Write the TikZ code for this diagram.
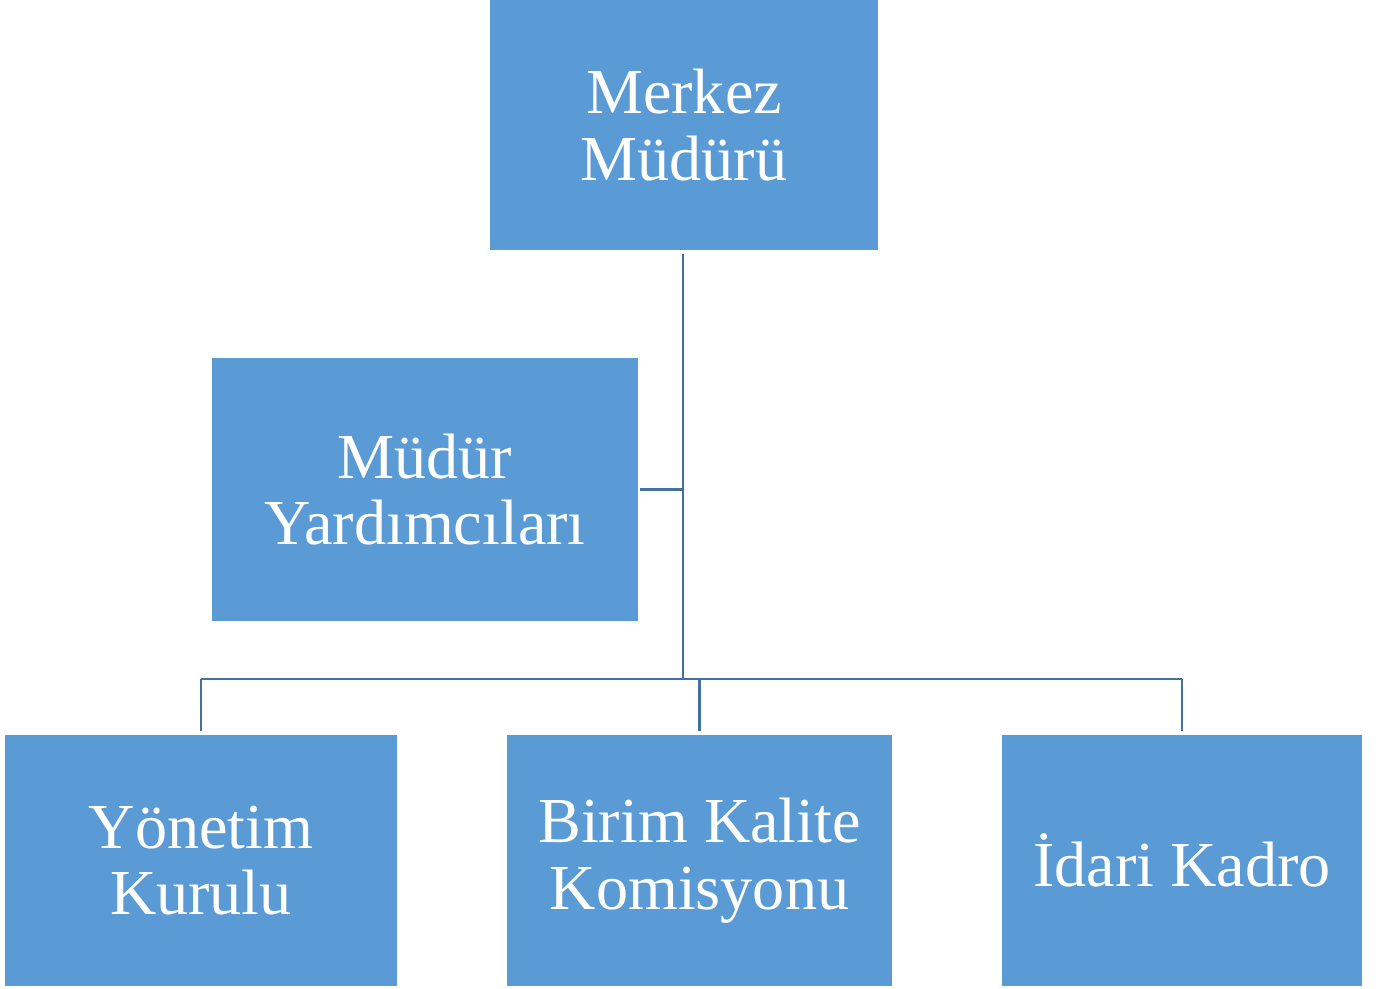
\documentclass[tikz,border=0pt]{standalone}
\usepackage{fontspec}
\setmainfont{Liberation Serif}
\usepackage{xcolor}
\definecolor{boxblue}{HTML}{5B9BD5}
\definecolor{linkblue}{HTML}{41719C}

\begin{document}
\begin{tikzpicture}[
        unit/.style = {fill=boxblue, text=white, align=center, inner sep=0pt,
            font=\fontsize{36.5}{38}\selectfont},
        link/.style = {linkblue, line width=1.6pt}
    ]
        \useasboundingbox (0,0) rectangle (27.56,-19.76);
        \node[unit, minimum width=7.76cm, minimum height=5cm] (mudur) at (13.68,-2.5) {Merkez\\Müdürü};
        \node[unit, minimum width=8.52cm, minimum height=5.26cm] (yardimci) at (8.5,-9.79) {Müdür\\Yardımcıları};
        \node[unit, minimum width=7.84cm, minimum height=5.02cm] (kurul) at (4.02,-17.21) {Yönetim\\Kurulu};
        \node[unit, minimum width=7.7cm, minimum height=5.02cm] (kalite) at (13.99,-17.21) {Birim Kalite\\Komisyonu};
        \node[unit, minimum width=7.2cm, minimum height=5.02cm] (idari) at (23.64,-17.21) {İdari Kadro};
        %trunk and bus
        \coordinate (bus) at (13.66,-13.58);
        \draw[link] ([yshift=-2pt]mudur.south -| bus) -- (bus);
        \draw[link] ([xshift=1pt]yardimci.east) -- (yardimci.east -| bus);
        \draw[link] (kurul.north |- bus) -- (idari.north |- bus);
        %drops to the lower units
        \foreach \n in {kurul,kalite,idari} {
            \draw[link] (\n.north |- bus) -- ([yshift=2pt]\n.north);
        }
    \end{tikzpicture}
\end{document}
